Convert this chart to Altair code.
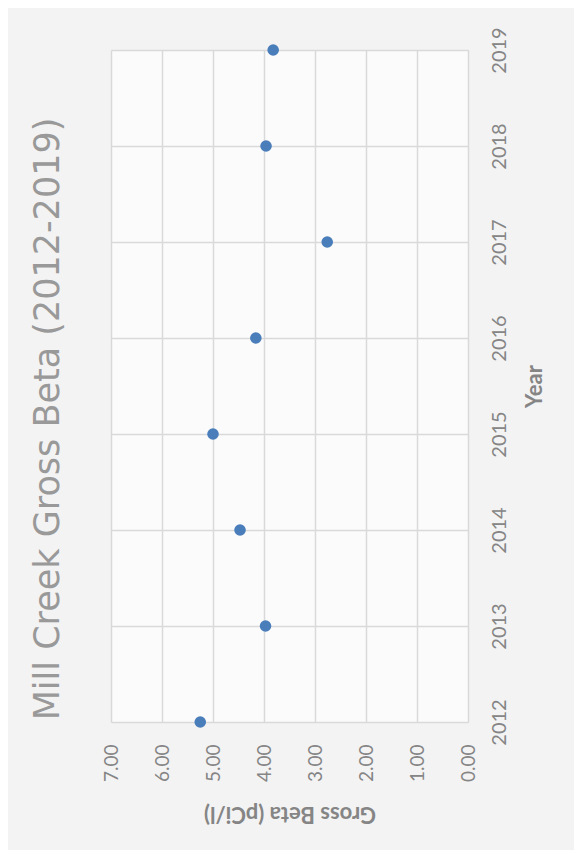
import altair as alt
import pandas as pd

years = [2012, 2013, 2014, 2015, 2016, 2017, 2018, 2019]
gross_beta = [5.25, 3.97, 4.47, 5.00, 4.16, 2.76, 3.96, 3.82]
beta_ticks = [0, 1, 2, 3, 4, 5, 6, 7]

df = pd.DataFrame({"Year": years, "GrossBeta": gross_beta})

gray = "#858585"
grid = "#d9d9d9"

chart = alt.Chart(df).mark_circle(size=135, color="#4a7ebb", opacity=1).encode(
    x=alt.X(
        "GrossBeta:Q",
        scale=alt.Scale(domain=[0, 7], reverse=True, nice=False, zero=False),
        axis=alt.Axis(
            title="Gross Beta (pCi/l)",
            values=beta_ticks,
            format=".2f",
            orient="bottom",
            labelAngle=270,
            labelFontSize=19,
            labelColor=gray,
            labelFont="Lato",
            labelPadding=22,
            ticks=False,
            domain=False,
            grid=True,
            gridColor=grid,
            gridWidth=1.5,
            titleAngle=180,
            titleFont="Lato",
            titleFontSize=22,
            titleFontWeight="bold",
            titleColor=gray,
            titlePadding=42,
        ),
    ),
    y=alt.Y(
        "Year:Q",
        scale=alt.Scale(domain=[2012, 2019], nice=False, zero=False),
        axis=alt.Axis(
            title="Year",
            values=years,
            format="d",
            orient="right",
            labelAngle=270,
            labelFontSize=20,
            labelColor=gray,
            labelFont="Lato",
            labelPadding=21,
            ticks=False,
            domain=False,
            grid=True,
            gridColor=grid,
            gridWidth=1.5,
            titleAngle=270,
            titleFont="Lato",
            titleFontSize=22,
            titleFontWeight="bold",
            titleColor=gray,
            titlePadding=37,
        ),
    ),
).properties(
    width=357,
    height=672,
    title=alt.TitleParams(
        text="Mill Creek Gross Beta (2012-2019)",
        orient="left",
        anchor="middle",
        frame="group",
        font="DejaVu Sans",
        fontSize=35,
        fontWeight="normal",
        color="#999999",
        offset=36,
        dx=-33,
    ),
    autosize=alt.AutoSizeParams(type="none"),
    padding={"left": 103, "top": 42, "right": 106, "bottom": 128},
).configure(
    background="#f3f3f3",
).configure_view(
    fill="#fbfbfb",
    stroke=None,
)

chart.save("out.html", embed_options={"renderer": "svg", "actions": False})
